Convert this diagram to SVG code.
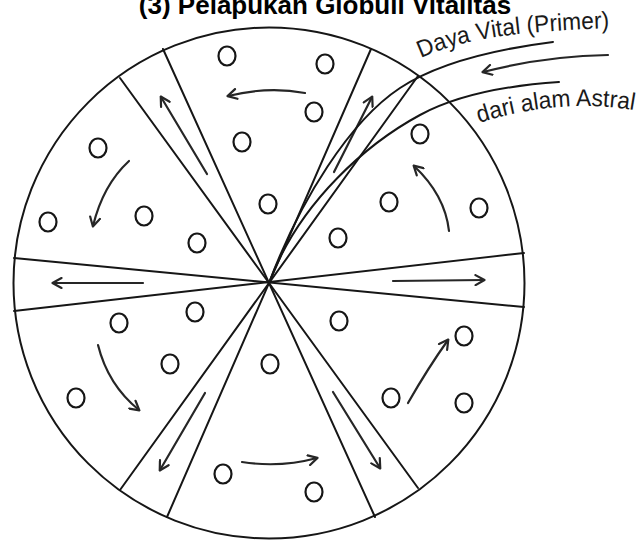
<svg xmlns="http://www.w3.org/2000/svg" width="641" height="540" viewBox="0 0 641 540">
<style>
.ln{fill:none;stroke:#161616;stroke-width:2;stroke-linecap:round}
.ar{fill:none;stroke:#262626;stroke-width:2.2;stroke-linecap:round;marker-end:url(#ah)}
.gl{fill:none;stroke:#161616;stroke-width:2.2}
.lb{font-family:"Liberation Sans",Arial,sans-serif;font-size:24px;fill:#1a1a1a}
.tt{font-family:"Liberation Sans",Arial,sans-serif;font-size:26px;font-weight:bold;fill:#000}
</style>
<defs>
<marker id="ah" viewBox="0 0 12 12" refX="10" refY="6" markerWidth="12" markerHeight="12" markerUnits="userSpaceOnUse" orient="auto">
<path d="M1.5,1 L10.5,6 L1.5,11" fill="none" stroke="#262626" stroke-width="2.2" stroke-linecap="round" stroke-linejoin="round"/>
</marker>
<path id="p1" d="M421,58 C460,40 510,31 618,28"/>
<path id="p2" d="M479,123 Q568,95 648,113"/>
</defs>
<rect width="641" height="540" fill="#fff"/>
<g id="title"><text class="tt" x="325" y="14" text-anchor="middle">(3) Pelapukan Globuli Vitalitas</text></g>
<g id="wheel">
<circle class="ln" cx="269" cy="283" r="255.5"/>
<line class="ln" x1="14" y1="258" x2="524" y2="307"/>
<line class="ln" x1="14" y1="311" x2="524" y2="253"/>
<line class="ln" x1="120" y1="490" x2="418" y2="76"/>
<line class="ln" x1="167" y1="517" x2="371" y2="49"/>
<line class="ln" x1="163" y1="49" x2="375" y2="517"/>
<line class="ln" x1="120" y1="78" x2="418" y2="488"/>
</g>
<g id="globules">
<ellipse class="gl" cx="227" cy="56" rx="8.5" ry="9.5"/>
<ellipse class="gl" cx="325" cy="64" rx="8.5" ry="9.5"/>
<ellipse class="gl" cx="314" cy="112" rx="8.5" ry="9.5"/>
<ellipse class="gl" cx="242" cy="142" rx="8.5" ry="9.5"/>
<ellipse class="gl" cx="268" cy="204" rx="8.5" ry="9.5"/>
<ellipse class="gl" cx="98" cy="148" rx="8.5" ry="9.5"/>
<ellipse class="gl" cx="48" cy="222" rx="8.5" ry="9.5"/>
<ellipse class="gl" cx="144" cy="216" rx="8.5" ry="9.5"/>
<ellipse class="gl" cx="197" cy="243" rx="8.5" ry="9.5"/>
<ellipse class="gl" cx="389" cy="202" rx="8.5" ry="9.5"/>
<ellipse class="gl" cx="420" cy="134" rx="8.5" ry="9.5"/>
<ellipse class="gl" cx="479" cy="208" rx="8.5" ry="9.5"/>
<ellipse class="gl" cx="338" cy="238" rx="8.5" ry="9.5"/>
<ellipse class="gl" cx="195" cy="312" rx="8.5" ry="9.5"/>
<ellipse class="gl" cx="119" cy="323" rx="8.5" ry="9.5"/>
<ellipse class="gl" cx="170" cy="364" rx="8.5" ry="9.5"/>
<ellipse class="gl" cx="76" cy="398" rx="8.5" ry="9.5"/>
<ellipse class="gl" cx="270" cy="364" rx="8.5" ry="9.5"/>
<ellipse class="gl" cx="339" cy="321" rx="8.5" ry="9.5"/>
<ellipse class="gl" cx="464" cy="336" rx="8.5" ry="9.5"/>
<ellipse class="gl" cx="391" cy="398" rx="8.5" ry="9.5"/>
<ellipse class="gl" cx="464" cy="403" rx="8.5" ry="9.5"/>
<ellipse class="gl" cx="223" cy="474" rx="8.5" ry="9.5"/>
<ellipse class="gl" cx="314" cy="492" rx="8.5" ry="9.5"/>
</g>
<g id="connectors">
<path class="ar" d="M305,93 Q268,86 228,96"/>
<path class="ar" d="M207,174 L161,97"/>
<path class="ar" d="M334,172 L372,97"/>
<path class="ar" d="M129,161 Q103,185 93,226"/>
<path class="ar" d="M143,283 L53,283"/>
<path class="ar" d="M393,281 L484,280"/>
<path class="ar" d="M449,231 Q445,195 414,166"/>
<path class="ar" d="M98,345 Q108,385 139,410"/>
<path class="ar" d="M205,393 L160,470"/>
<path class="ar" d="M242,462 Q280,468 317,458"/>
<path class="ar" d="M333,392 L380,468"/>
<path class="ar" d="M408,403 Q428,368 448,340"/>
<path class="ln" d="M553,42 Q450,55 400,88 C350,121 300,200 269,283"/>
<path class="ln" d="M559,82 Q470,88 420,115 C370,142 300,200 269,283"/>
<path class="ar" d="M608,55 Q545,56 483,72"/>
</g>
<g id="labels">
<text class="lb"><textPath href="#p1" textLength="192" lengthAdjust="spacingAndGlyphs">Daya Vital (Primer)</textPath></text>
<text class="lb"><textPath href="#p2" textLength="157" lengthAdjust="spacingAndGlyphs">dari alam Astral</textPath></text>
</g>
</svg>
